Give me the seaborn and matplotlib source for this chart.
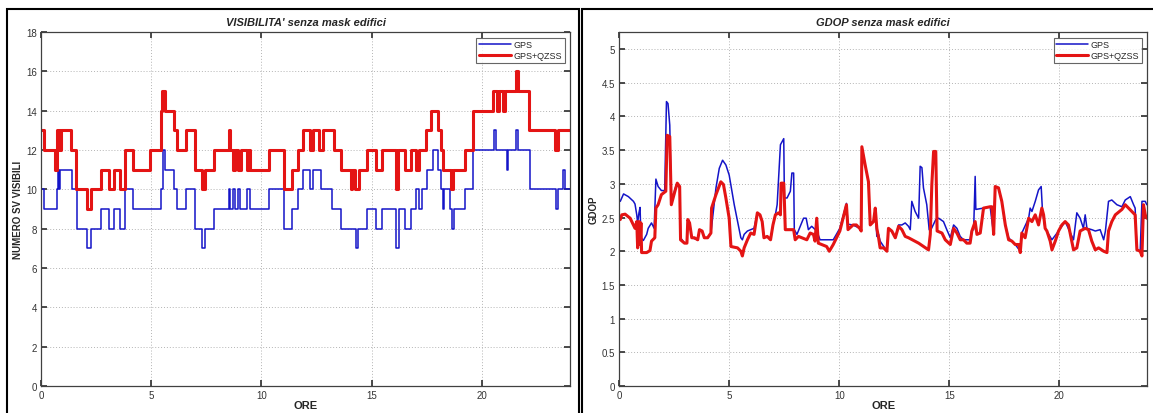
import numpy as np
import pandas as pd
import seaborn as sns
import matplotlib.pyplot as plt
from matplotlib.patches import Rectangle

# --- visibility (step data): hour where the value changes, new value ---
vis_gps_t = [0, 0.12, 0.72, 0.78, 0.82, 0.88, 1.41, 1.63, 2.09, 2.28, 2.74, 3.07, 3.30, 3.56, 3.83,
             4.16, 5.46, 5.52, 5.61, 6.02, 6.17, 6.58, 7.00, 7.31, 7.46, 7.84, 8.52, 8.59, 8.70, 8.78,
             8.95, 9.02, 9.35, 9.50, 10.33, 11.01, 11.39, 11.66, 11.90, 12.22, 12.33, 12.70, 13.22,
             13.60, 14.28, 14.40, 14.80, 15.19, 15.49, 16.12, 16.22, 16.52, 16.78, 17.00, 17.15,
             17.30, 17.53, 17.76, 18.02, 18.15, 18.22, 18.28, 18.55, 18.65, 18.72, 19.23, 19.60,
             20.55, 20.66, 21.12, 21.20, 21.55, 21.62, 22.18, 23.36, 23.45, 23.66, 23.77, 24.0]
vis_gps_v = [10, 9, 10, 11, 10, 11, 10, 8, 7, 8, 9, 8, 9, 8, 10,
             9, 10, 12, 11, 10, 9, 10, 8, 7, 8, 9, 10, 9, 10, 9,
             10, 9, 10, 9, 10, 8, 9, 10, 11, 10, 11, 10, 9,
             8, 7, 8, 9, 8, 9, 7, 9, 8, 9, 10, 9,
             10, 11, 12, 11, 10, 9, 10, 9, 8, 9, 10, 12,
             13, 12, 11, 12, 13, 12, 10, 9, 10, 11, 10, 10]

vis_qzss_t = [0, 0.12, 0.65, 0.72, 0.76, 0.80, 0.85, 0.90, 1.38, 1.60, 2.09, 2.28, 2.74, 3.07, 3.30,
              3.56, 3.83, 4.16, 4.96, 5.46, 5.49, 5.64, 6.02, 6.17, 6.58, 7.00, 7.31, 7.46, 7.84,
              8.52, 8.59, 8.70, 8.82, 8.95, 9.05, 9.35, 9.42, 9.50, 10.33, 11.01, 11.39, 11.66,
              11.88, 12.22, 12.33, 12.63, 12.78, 13.31, 13.62, 14.05, 14.10, 14.25, 14.43, 14.80,
              15.19, 15.45, 16.10, 16.20, 16.52, 16.78, 17.00, 17.15, 17.46, 17.70, 18.02, 18.15,
              18.25, 18.60, 18.70, 19.23, 19.60, 20.50, 20.70, 20.76, 20.98, 21.04, 21.54, 21.62,
              22.15, 23.33, 23.46, 24.0]
vis_qzss_v = [13, 12, 11, 13, 12, 13, 12, 13, 12, 10, 9, 10, 11, 10, 11,
              10, 12, 11, 12, 14, 15, 14, 13, 12, 13, 11, 10, 11, 12,
              13, 12, 11, 12, 11, 12, 11, 12, 11, 12, 10, 11, 12,
              13, 12, 13, 12, 13, 12, 11, 10, 11, 10, 11, 12,
              11, 12, 10, 12, 11, 12, 11, 12, 13, 14, 13, 12,
              11, 10, 11, 12, 14, 15, 14, 15, 14, 15, 16, 15,
              13, 12, 13, 13]

# --- GDOP ---
gdop_gps_t = [0.05, 0.20, 0.42, 0.65, 0.72, 0.80, 0.84, 0.90, 0.95, 0.99, 1.10, 1.25, 1.32, 1.47, 1.59,
              1.67, 1.77, 1.92, 2.07, 2.15, 2.22, 2.30, 2.37, 2.45, 2.60, 2.75, 2.79, 2.97, 3.08, 3.12,
              3.20, 3.30, 3.57, 3.65, 3.77, 3.87, 4.02, 4.17, 4.40, 4.55, 4.70, 4.85, 5.00, 5.23, 5.53,
              5.60, 5.68, 5.83, 5.98, 6.13, 6.28, 6.40, 6.50, 6.58, 6.73, 6.88, 6.99, 7.10, 7.18, 7.33,
              7.48, 7.51, 7.63, 7.78, 7.85, 7.93, 7.96, 8.08, 8.38, 8.50, 8.60, 8.75, 8.98, 9.13, 9.73,
              10.03, 10.33, 10.40, 10.63, 10.93, 11.00, 11.03, 11.18, 11.33, 11.41, 11.56, 11.64, 11.71,
              11.79, 11.86, 12.17, 12.24, 12.39, 12.55, 12.70, 12.85, 13.00, 13.15, 13.23, 13.30, 13.45,
              13.61, 13.68, 13.76, 13.83, 13.98, 14.09, 14.14, 14.39, 14.52, 14.74, 14.89, 15.05, 15.20,
              15.35, 15.50, 15.65, 15.95, 16.03, 16.11, 16.18, 16.21, 16.56, 16.86, 17.02, 17.09, 17.24,
              17.39, 17.55, 17.70, 18.00, 18.23, 18.30, 18.61, 18.68, 18.76, 18.91, 19.06, 19.18, 19.24,
              19.36, 19.67, 19.97, 20.27, 20.65, 20.80, 20.95, 21.10, 21.18, 21.26, 21.48, 21.64, 21.86,
              22.02, 22.10, 22.24, 22.39, 22.62, 22.85, 23.00, 23.23, 23.38, 23.45, 23.53, 23.68, 23.76,
              23.91, 23.98]
gdop_gps_v = [2.74, 2.85, 2.81, 2.74, 2.70, 2.54, 2.42, 2.57, 2.65, 2.20, 2.16, 2.25, 2.34, 2.42, 2.34,
              3.07, 2.96, 2.90, 2.90, 4.22, 4.19, 3.87, 2.74, 2.82, 2.99, 2.94, 2.20, 2.12, 2.12, 2.47,
              2.42, 2.20, 2.17, 2.32, 2.30, 2.20, 2.20, 2.27, 2.94, 3.23, 3.35, 3.28, 3.13, 2.69, 2.20,
              2.17, 2.25, 2.30, 2.32, 2.34, 2.57, 2.54, 2.44, 2.20, 2.22, 2.17, 2.39, 2.54, 2.69, 3.58,
              3.67, 2.79, 2.79, 2.89, 3.16, 3.16, 2.32, 2.25, 2.49, 2.49, 2.32, 2.37, 2.30, 2.17, 2.17,
              2.34, 2.71, 2.40, 2.39, 2.34, 2.30, 3.55, 3.28, 3.03, 2.39, 2.44, 2.64, 2.22,
              2.25, 2.15, 2.00, 2.34, 2.30, 2.20, 2.39, 2.39, 2.42, 2.37, 2.32, 2.74, 2.59,
              2.49, 3.26, 3.24, 2.94, 2.69, 2.32, 2.30, 2.47, 2.49, 2.44, 2.32, 2.20, 2.39,
              2.34, 2.22, 2.17, 2.17, 2.32, 2.32, 3.11, 2.62, 2.64, 2.66, 2.25, 2.96, 2.94,
              2.74, 2.39, 2.20, 2.10, 2.00, 2.27, 2.49, 2.64, 2.59, 2.74, 2.91, 2.96, 2.59,
              2.34, 2.17, 2.30, 2.44, 2.17, 2.57, 2.49, 2.34, 2.54, 2.34, 2.32, 2.30, 2.32,
              2.17, 2.30, 2.74, 2.76, 2.69, 2.66, 2.76, 2.81, 2.69, 2.64, 2.02, 2.00, 2.74,
              2.74, 2.69]

gdop_qzss_t = [0.05, 0.12, 0.27, 0.50, 0.65, 0.72, 0.80, 0.84, 0.90, 0.95, 0.99, 1.02, 1.25, 1.40, 1.47,
               1.62, 1.67, 1.77, 1.92, 2.12, 2.18, 2.30, 2.37, 2.45, 2.55, 2.64, 2.75, 2.79, 2.97, 3.08,
               3.12, 3.20, 3.30, 3.42, 3.57, 3.65, 3.77, 3.87, 4.02, 4.17, 4.20, 4.40, 4.62, 4.74, 4.85,
               5.00, 5.08, 5.38, 5.53, 5.60, 5.68, 5.83, 5.98, 6.13, 6.28, 6.40, 6.50, 6.58, 6.73, 6.88,
               6.99, 7.10, 7.25, 7.33, 7.36, 7.48, 7.51, 7.55, 7.78, 7.93, 8.00, 8.15, 8.30, 8.53, 8.68,
               8.83, 8.90, 8.98, 9.05, 9.20, 9.43, 9.55, 9.73, 10.03, 10.33, 10.40, 10.63, 10.78, 10.93,
               11.00, 11.03, 11.18, 11.33, 11.41, 11.56, 11.64, 11.71, 11.79, 11.86, 12.02, 12.17, 12.24,
               12.39, 12.55, 12.70, 12.85, 13.00, 13.15, 13.61, 14.06, 14.14, 14.21, 14.29, 14.39, 14.45,
               14.67, 14.82, 15.05, 15.20, 15.35, 15.50, 15.65, 15.80, 15.95, 16.03, 16.18, 16.26, 16.41,
               16.56, 16.86, 16.94, 17.02, 17.09, 17.24, 17.39, 17.55, 17.70, 17.85, 18.00, 18.15, 18.23,
               18.30, 18.45, 18.61, 18.76, 18.91, 19.06, 19.21, 19.29, 19.36, 19.44, 19.52, 19.59, 19.67,
               19.82, 19.97, 20.12, 20.27, 20.42, 20.65, 20.80, 20.95, 21.18, 21.33, 21.48, 21.64, 21.79,
               22.02, 22.17, 22.24, 22.39, 22.55, 22.85, 23.00, 23.15, 23.30, 23.45, 23.53, 23.68, 23.76,
               23.83, 23.91, 23.98]
gdop_qzss_v = [2.47, 2.54, 2.55, 2.49, 2.39, 2.34, 2.44, 2.05, 2.44, 2.10, 2.42, 1.98, 1.98, 2.01, 2.15,
               2.20, 2.64, 2.69, 2.84, 2.89, 3.72, 3.70, 2.69, 2.79, 2.91, 3.01, 2.96, 2.17, 2.12, 2.12,
               2.47, 2.42, 2.20, 2.20, 2.17, 2.32, 2.30, 2.20, 2.20, 2.27, 2.64, 2.84, 3.03, 2.99, 2.79,
               2.49, 2.07, 2.05, 2.00, 1.93, 2.05, 2.17, 2.27, 2.25, 2.57, 2.54, 2.44, 2.20, 2.22, 2.17,
               2.39, 2.54, 2.57, 2.54, 3.01, 3.01, 2.74, 2.32, 2.32, 2.32, 2.17, 2.22, 2.20, 2.17, 2.27,
               2.25, 2.15, 2.49, 2.12, 2.10, 2.07, 2.00, 2.10, 2.30, 2.69, 2.32, 2.39, 2.39, 2.34,
               2.30, 3.55, 3.28, 3.03, 2.39, 2.44, 2.64, 2.34, 2.20, 2.05, 2.05, 2.00, 2.34,
               2.30, 2.20, 2.37, 2.32, 2.22, 2.20, 2.12, 2.02, 2.25, 2.99, 3.48, 3.48, 2.30,
               2.27, 2.17, 2.10, 2.34, 2.27, 2.17, 2.17, 2.12, 2.12, 2.30, 2.44, 2.25, 2.27,
               2.64, 2.66, 2.66, 2.25, 2.96, 2.94, 2.74, 2.39, 2.17, 2.15, 2.10, 2.10, 1.98,
               2.27, 2.20, 2.49, 2.44, 2.54, 2.39, 2.64, 2.54, 2.34, 2.30, 2.22, 2.15, 2.02,
               2.15, 2.30, 2.39, 2.44, 2.39, 2.02, 2.05, 2.30, 2.34, 2.32, 2.15, 2.02, 2.05,
               2.00, 1.98, 2.30, 2.44, 2.54, 2.62, 2.69, 2.64, 2.59, 2.54, 2.02, 2.00, 1.93,
               2.69, 2.54, 2.49]

BLUE = "#1414c8"
RED = "#e41414"

sns.set_theme(style="white")
plt.rcParams['font.family'] = ['Liberation Sans', 'DejaVu Sans']

fig = plt.figure(figsize=(11.53, 4.14), dpi=100)
ax1 = fig.add_axes([0.0356, 0.065, 0.4588, 0.855])
ax2 = fig.add_axes([0.537, 0.065, 0.458, 0.855])

# panel frames
fig.patches.append(Rectangle((0.006, -0.01), 0.496, 0.985, transform=fig.transFigure,
                             fill=False, edgecolor="black", linewidth=1.5))
fig.patches.append(Rectangle((0.505, -0.01), 0.5, 0.985, transform=fig.transFigure,
                             fill=False, edgecolor="black", linewidth=1.5))

vis = pd.concat([
    pd.DataFrame({"ore": vis_gps_t, "val": vis_gps_v, "serie": "GPS"}),
    pd.DataFrame({"ore": vis_qzss_t, "val": vis_qzss_v, "serie": "GPS+QZSS"}),
])
gdop = pd.concat([
    pd.DataFrame({"ore": gdop_gps_t, "val": gdop_gps_v, "serie": "GPS"}),
    pd.DataFrame({"ore": gdop_qzss_t, "val": gdop_qzss_v, "serie": "GPS+QZSS"}),
])

sns.lineplot(data=vis[vis.serie == "GPS"], x="ore", y="val", ax=ax1, color=BLUE,
             lw=1.1, drawstyle="steps-post", estimator=None, sort=False, label="GPS")
sns.lineplot(data=vis[vis.serie == "GPS+QZSS"], x="ore", y="val", ax=ax1, color=RED,
             lw=2.2, drawstyle="steps-post", estimator=None, sort=False, label="GPS+QZSS")
sns.lineplot(data=gdop[gdop.serie == "GPS"], x="ore", y="val", ax=ax2, color=BLUE,
             lw=1.1, estimator=None, sort=False, label="GPS")
sns.lineplot(data=gdop[gdop.serie == "GPS+QZSS"], x="ore", y="val", ax=ax2, color=RED,
             lw=2.2, estimator=None, sort=False, label="GPS+QZSS")

ax1.set_xlim(0, 24)
ax1.set_ylim(0, 18)
ax1.set_yticks(np.arange(0, 19, 2))
ax2.set_xlim(0, 24)
ax2.set_ylim(0, 5.25)
ax2.set_yticks(np.arange(0, 5.01, 0.5))
ax2.set_yticklabels(["0", "0.5", "1", "1.5", "2", "2.5", "3", "3.5", "4", "4.5", "5"])

for ax, title, ylab in [(ax1, "VISIBILITA' senza mask edifici", "NUMERO SV VISIBILI"),
                        (ax2, "GDOP senza mask edifici", "GDOP")]:
    ax.set_xticks([0, 5, 10, 15, 20])
    ax.grid(True, linestyle=(0, (1, 2)), color="#b4b4b4", linewidth=0.7)
    ax.tick_params(direction="in", length=4, labelsize=7, colors="#333333",
                   top=True, right=True, bottom=True, left=True, pad=3)
    for s in ax.spines.values():
        s.set_color("#404040")
        s.set_linewidth(0.9)
    ax.set_title(title, fontsize=8, fontweight="bold", fontstyle="italic", pad=5)
    ax.set_xlabel("ORE", fontsize=8, fontweight="bold", labelpad=0)
    ax.set_ylabel(ylab, fontsize=7, fontweight="bold", labelpad=2)
    leg = ax.legend(loc="upper right", fontsize=6.5, frameon=True, fancybox=False,
                    edgecolor="#404040", handlelength=3.5, borderaxespad=0.6,
                    labelspacing=0.2, handletextpad=0.3, borderpad=0.3)
    leg.get_frame().set_linewidth(0.8)

plt.savefig("out.png", dpi=100)
plt.close()
